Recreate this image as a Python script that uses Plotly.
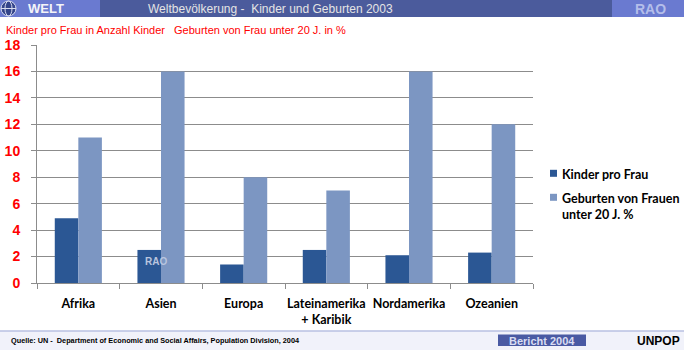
import plotly.graph_objects as go

categories = ["Afrika", "Asien", "Europa", "Lateinamerika<br>+ Karibik", "Nordamerika", "Ozeanien"]
kinder_pro_frau = [4.9, 2.5, 1.4, 2.5, 2.1, 2.3]
geburten_unter_20 = [11, 16, 8, 7, 16, 12]
y_ticks = [0, 2, 4, 6, 8, 10, 12, 14, 16, 18]
series_names = ["Kinder pro Frau", "Geburten von Frauen<br>unter 20 J. %"]

W, H = 684, 350
ML, MR, MT, MB = 37, 151, 45, 67
PW, PH = W - ML - MR, H - MT - MB

def px(x):
    return (x - ML) / PW

def py(y):
    return (H - MB - y) / PH

DARK = "#2B5794"
LIGHT = "#7C96C2"
ARIAL = "Liberation Sans, Arial, sans-serif"
CAL = "Lato, Carlito, Calibri, sans-serif"

fig = go.Figure()
fig.add_trace(go.Bar(x=categories, y=kinder_pro_frau, name=series_names[0],
                     marker=dict(color=DARK, line=dict(width=0)), showlegend=False))
fig.add_trace(go.Bar(x=categories, y=geburten_unter_20, name=series_names[1],
                     marker=dict(color=LIGHT, line=dict(width=0)), showlegend=False))

shapes = []
ann = []
# header
shapes.append(dict(type="rect", xref="paper", yref="paper", x0=px(0), x1=px(684), y0=py(17), y1=py(0),
                   fillcolor="#4B5B9C", line=dict(width=0), layer="below"))
shapes.append(dict(type="rect", xref="paper", yref="paper", x0=px(0), x1=px(100), y0=py(17), y1=py(0),
                   fillcolor="#6A7AD0", line=dict(width=0), layer="below"))
shapes.append(dict(type="rect", xref="paper", yref="paper", x0=px(612), x1=px(684), y0=py(17), y1=py(0),
                   fillcolor="#6A7AD0", line=dict(width=0), layer="below"))
# globe icon
shapes.append(dict(type="circle", xref="paper", yref="paper", x0=px(1), x1=px(16), y0=py(16), y1=py(1),
                   fillcolor="#33448A", line=dict(color="#D8DCEF", width=1)))
shapes.append(dict(type="circle", xref="paper", yref="paper", x0=px(5), x1=px(12), y0=py(16), y1=py(1),
                   fillcolor="rgba(0,0,0,0)", line=dict(color="#D8DCEF", width=1)))
shapes.append(dict(type="line", xref="paper", yref="paper", x0=px(1), x1=px(16), y0=py(8.5), y1=py(8.5),
                   line=dict(color="#D8DCEF", width=1)))
ann.append(dict(text="<b>WELT</b>", x=px(26), y=py(8.5), xanchor="left", yanchor="middle",
                font=dict(family=ARIAL, size=13, color="#F4F4F8")))
ann.append(dict(text="Weltbevölkerung -  Kinder und Geburten 2003", x=px(270.5), y=py(8.5), xanchor="center",
                yanchor="middle", font=dict(family=ARIAL, size=12, color="#E4E4E4")))
ann.append(dict(text="<b>RAO</b>", x=px(650.5), y=py(8.5), xanchor="center", yanchor="middle",
                font=dict(family=ARIAL, size=14, color="#B4BEEA")))
# subtitles
ann.append(dict(text="Kinder pro Frau in Anzahl Kinder", x=px(4), y=py(30), xanchor="left", yanchor="middle",
                font=dict(family=ARIAL, size=11, color="#FF0000")))
ann.append(dict(text="Geburten von Frau unter 20 J. in %", x=px(171.5), y=py(30), xanchor="left", yanchor="middle",
                font=dict(family=ARIAL, size=11, color="#FF0000")))
# legend (manual)
for i, (name, col, yc) in enumerate([(series_names[0], DARK, 173.3), (series_names[1], LIGHT, 197.3)]):
    shapes.append(dict(type="rect", xref="paper", yref="paper", x0=px(550), x1=px(557), y0=py(yc + 3.5),
                       y1=py(yc - 3.5), fillcolor=col, line=dict(width=0)))
    ann.append(dict(text="<b>" + name.replace("<br>", "</b><br><b>") + "</b>", x=px(560), y=py(yc - 8),
                    xanchor="left", yanchor="top", align="left",
                    font=dict(family=CAL, size=12.5, color="#000000")))
# watermark
ann.append(dict(text="<b>RAO</b>", x=px(155.5), y=py(261.5), xanchor="center", yanchor="middle",
                font=dict(family=ARIAL, size=10, color="#B9C5DF")))
# footer
shapes.append(dict(type="rect", xref="paper", yref="paper", x0=px(0), x1=px(684), y0=py(350), y1=py(331),
                   fillcolor="#F1F2FA", line=dict(width=0), layer="below"))
shapes.append(dict(type="line", xref="paper", yref="paper", x0=px(0), x1=px(684), y0=py(331), y1=py(331),
                   line=dict(color="#B9C0E2", width=1.5)))
shapes.append(dict(type="rect", xref="paper", yref="paper", x0=px(498), x1=px(586), y0=py(346), y1=py(334.5),
                   fillcolor="#4A5AA3", line=dict(width=0)))
ann.append(dict(text="<b>Quelle: UN -  Department of Economic and Social Affairs, Population Division, 2004</b>",
                x=px(9), y=py(340.5), xanchor="left", yanchor="middle",
                font=dict(family=ARIAL, size=7.3, color="#000000")))
ann.append(dict(text="<b>Bericht 2004</b>", x=px(542), y=py(340.5), xanchor="center", yanchor="middle",
                font=dict(family=ARIAL, size=11, color="#D9DDF2")))
ann.append(dict(text="<b>UNPOP</b>", x=px(658.5), y=py(340.5), xanchor="center", yanchor="middle",
                font=dict(family=ARIAL, size=12, color="#000000")))

for a in ann:
    a.update(xref="paper", yref="paper", showarrow=False)

fig.update_layout(
    width=W, height=H,
    margin=dict(l=ML, r=MR, t=MT, b=MB, pad=0, autoexpand=False),
    paper_bgcolor="white", plot_bgcolor="white",
    barmode="group", bargap=0.43, bargroupgap=0,
    shapes=shapes, annotations=ann,
    xaxis=dict(showline=True, linecolor="#8C8C8C", linewidth=1, ticks="outside", ticklen=5,
               tickcolor="#8C8C8C", tickson="boundaries", showgrid=False, tickangle=0, automargin=False,
               tickfont=dict(family=CAL, size=12.5, color="#000000", weight="bold"),
               ticklabelstandoff=9),
    yaxis=dict(range=[0, 18], tickvals=y_ticks, showline=True, linecolor="#8C8C8C", linewidth=1,
               ticks="outside", ticklen=5, tickcolor="#8C8C8C", showgrid=True, gridcolor="#8C8C8C",
               gridwidth=1, zeroline=False, automargin=False,
               tickfont=dict(family=ARIAL, size=14, color="#FF0000", weight="bold"),
               ticklabelstandoff=8),
)

fig.write_html("out.html")
